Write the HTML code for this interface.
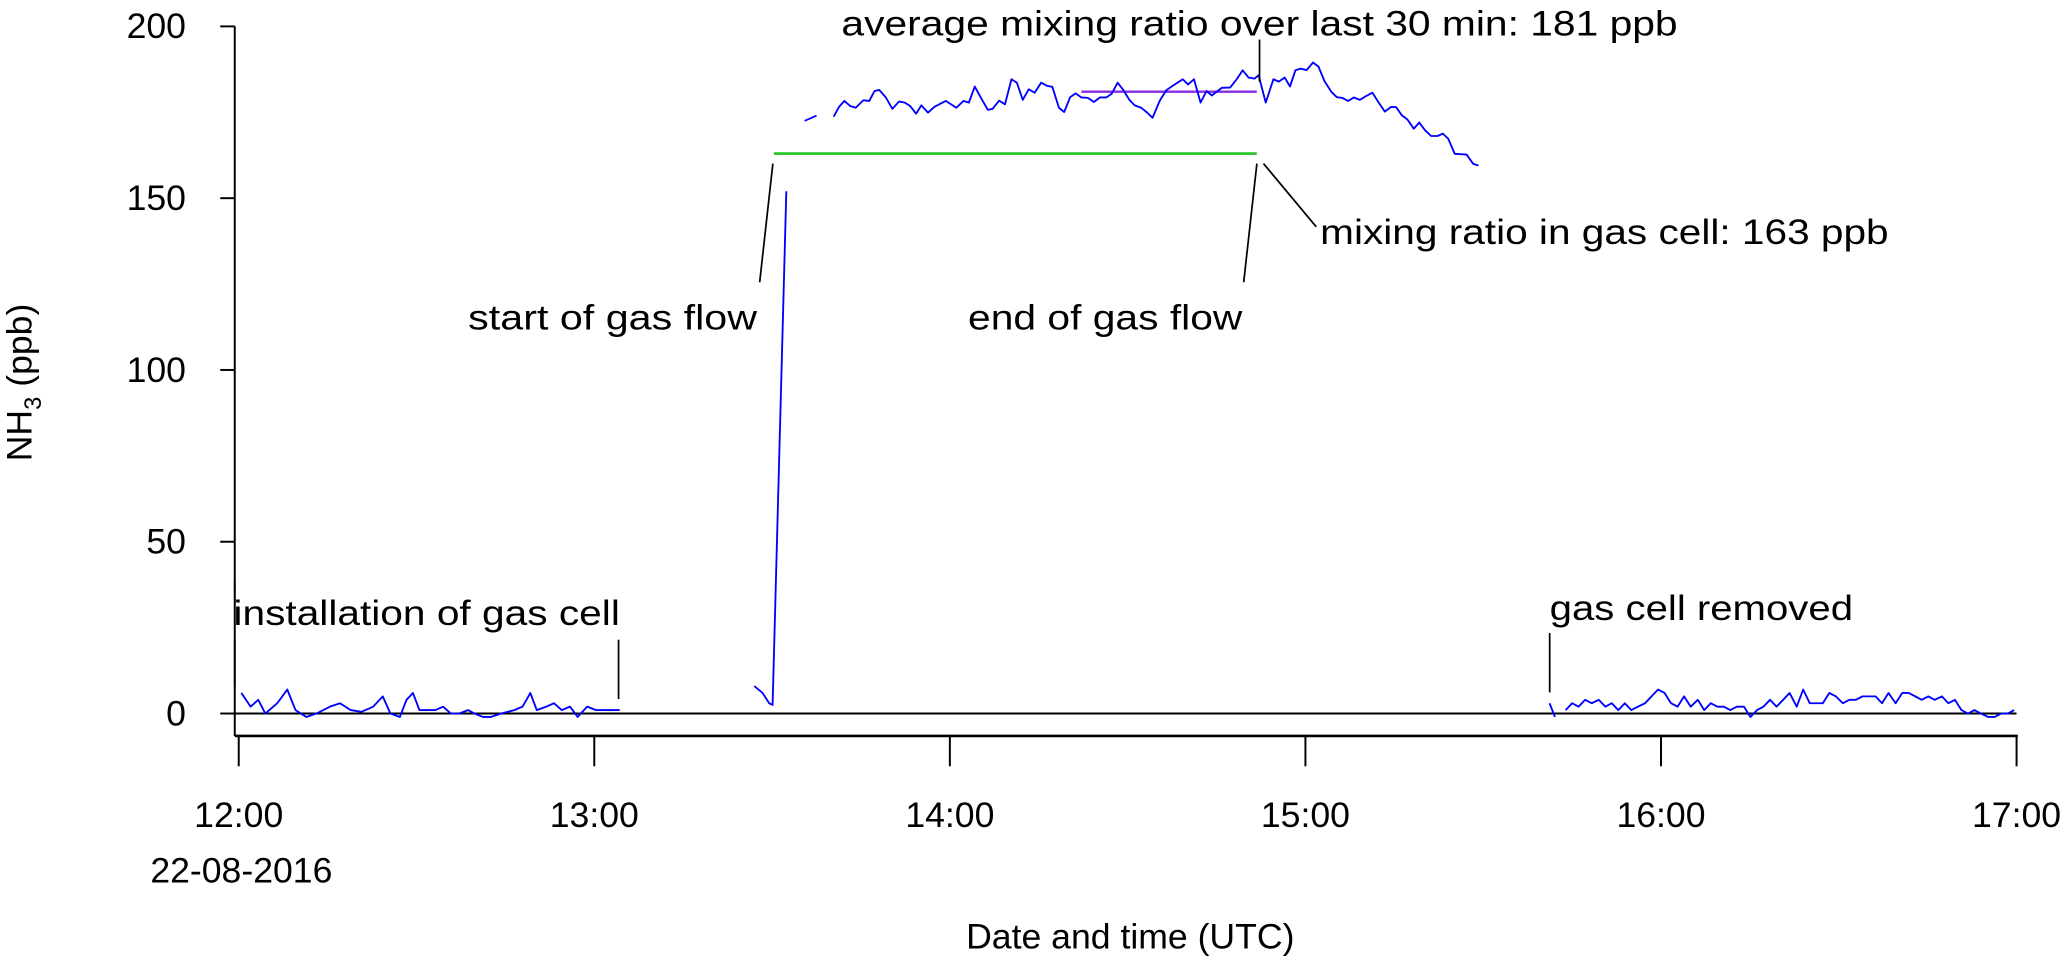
<!DOCTYPE html>
<html><head><meta charset="utf-8"><style>
html,body{margin:0;padding:0;background:#fff;}
svg{display:block;}
text{font-family:"Liberation Sans",sans-serif;fill:#000;}
</style></head><body>
<svg id="chart" width="2068" height="957" viewBox="0 0 1568 725.6" xmlns="http://www.w3.org/2000/svg">
<g id="axes"></g>
<g id="series"></g>
<g id="annot">
  <line x1="178" y1="440" x2="178" y2="455" stroke="#000" stroke-width="1.3"/>
  <line x1="178" y1="485" x2="178" y2="520" stroke="#000" stroke-width="1.3"/>
  <line x1="469" y1="485" x2="469" y2="530" stroke="#000" stroke-width="1.3"/>
  <text x="177" y="474" font-size="27" textLength="293" lengthAdjust="spacingAndGlyphs">installation of gas cell</text>
  <line x1="576" y1="214" x2="586" y2="124" stroke="#000" stroke-width="1.3"/>
  <text x="355" y="250" font-size="27" textLength="219" lengthAdjust="spacingAndGlyphs">start of gas flow</text>
  <line x1="943" y1="214" x2="953" y2="124" stroke="#000" stroke-width="1.3"/>
  <text x="734" y="250" font-size="27" textLength="208" lengthAdjust="spacingAndGlyphs">end of gas flow</text>
  <line x1="958" y1="124" x2="998" y2="172" stroke="#000" stroke-width="1.3"/>
  <text x="1001" y="185" font-size="27" textLength="431" lengthAdjust="spacingAndGlyphs">mixing ratio in gas cell: 163 ppb</text>
  <line x1="955" y1="30" x2="955" y2="62" stroke="#000" stroke-width="1.3"/>
  <text x="638" y="27" font-size="27" textLength="634" lengthAdjust="spacingAndGlyphs">average mixing ratio over last 30 min: 181 ppb</text>
  <line x1="1175" y1="480" x2="1175" y2="525" stroke="#000" stroke-width="1.3"/>
  <text x="1175" y="470" font-size="27" textLength="230" lengthAdjust="spacingAndGlyphs">gas cell removed</text>
</g>
</svg>
<script>
// data: minutes after 12:00 UTC, NH3 ppb
const seg1Min=[0.45,2,3.3,4.5,6.5,8.2,9.6,11.4,13.1,15.4,17.1,18.9,20.7,22.7,24.3,25.6,27.2,28.3,29.4,30.5,31.8,33.2,34.5,35.8,37.2,38.7,39.8,41.2,42.5,44.3,46.5,47.9,49.2,50.3,51.9,53.2,54.5,55.9,57.2,58.8,60.3,62.1,64.3];
const seg1Val=[6,2,4,0,3,7,1,-1,0,2,3,1,0.5,2,5,0,-1,4,6,1,1,1,2,0,0,1,0,-1,-1,0,1,2,6,1,2,3,1,2,-1,2,1,1,1];
const seg2Min=[87,88.4,89.5,90.1,92.4];
const seg2Val=[8,6,3,2.5,152];
const seg3Min=[95.5,97.5];
const seg3Val=[172.5,174];
const seg4Min=[100.4,101.3,102.2,103.2,104.1,105.4,106.4,107.3,108.1,109.2,110.3,111.4,112.4,113.3,114.3,115.2,116.3,117.4,119.3,121.1,122.3,123.2,124.2,125.2,126.4,127.2,128.3,129.3,130.4,131.3,132.3,133.3,134.3,135.4,136.4,137.3,138.4,139.3,140.3,141.2,142.2,143.3,144.3,145.3,146.4,147.3,148.3,149.3,150.3,151.2,152.3,153.3,154.2,155.4,156.5,157.6,159.3,160.2,161.2,162.3,163.3,164.2,165.9,167.3,168.4,169.4,170.4,171.4,172.1,173.3,174.6,175.5,176.5,177.4,178.3,179.2,180.2,181.3,182.2,183.2,184.4,185.3,186.2,187.2,188.2,189.2,190.2,191.3,192.3,193.4,194.4,195.3,196.3,197.2,198.3,199.2,200.2,201.2,202.3,203.2,204.1,205.2,207.2,208.3,209.2];
const seg4Val=[173.7,176.6,178.3,176.8,176.3,178.5,178.3,181.2,181.5,179.3,176,178.1,177.8,176.8,174.6,177,174.9,176.6,178.3,176.3,178.3,177.8,182.5,179.3,175.7,176,178.4,177.3,184.6,183.6,178.6,181.7,180.7,183.6,182.7,182.4,176.3,175.1,179.4,180.5,179.3,179.2,178,179.3,179.3,180.4,183.6,181.4,178.6,177,176.3,174.9,173.4,178.3,181.4,182.7,184.6,183.1,184.6,177.8,181.2,179.9,182.1,182.2,184.6,187.2,185.1,184.8,185.8,177.8,184.6,183.9,185.1,182.5,187.2,187.7,187.3,189.5,188.3,184.1,180.9,179.4,179.2,178.3,179.3,178.6,179.7,180.7,178,175.2,176.5,176.5,174.1,172.9,170.2,172,169.7,168.1,168.1,168.8,167.3,162.9,162.7,160,159.5];
const seg5aMin=[221.2,222.1];
const seg5aVal=[3,-1];
const seg5Min=[223.9,225.0,226.1,227.2,228.3,229.5,230.6,231.7,232.8,233.9,235.0,236.1,237.3,238.4,239.5,240.6,241.7,242.8,243.9,245.0,246.2,247.3,248.4,249.5,250.6,251.7,252.8,254.0,255.1,256.2,257.3,258.4,259.5,260.6,261.7,262.9,264.0,265.1,266.2,267.3,268.4,269.5,270.7,271.8,272.9,274.0,275.1,276.2,277.3,278.4,279.6,280.7,281.8,282.9,284.0,285.1,286.2,287.4,288.5,289.6,290.7,291.8,292.9,294.0,295.2,296.3,297.4,298.5,299.6];
const seg5Val=[1,3,2,4,3,4,2,3,1,3,1,2,3,5,7,6,3,2,5,2,4,1,3,2,2,1,2,2,-1,1,2,4,2,4,6,2,7,3,3,3,6,5,3,4,4,5,5,5,3,6,3,6,6,5,4,5,4,5,3,4,1,0,1,0,-1,-1,0,0,1];
const gasCellRatio=163;
const gasFlowMin=[90.3,171.8];
const avgRatio=181;
const avgMin=[142.2,171.8];
const yTicks=[0,50,100,150,200];
const xTickMin=[0,60,120,180,240,300];
const xTickLabels=["12:00","13:00","14:00","15:00","16:00","17:00"];

const NS="http://www.w3.org/2000/svg";
const X=m=>181+m*(1348/300);
const Y=v=>541-v*(521/200);
function mk(tag,attrs,parent){const e=document.createElementNS(NS,tag);for(const k in attrs)e.setAttribute(k,attrs[k]);parent.appendChild(e);return e;}
const axes=document.getElementById('axes');
const series=document.getElementById('series');

let yl=mk('line',{x1:178,y1:Y(200),x2:178,y2:558,stroke:'#000','stroke-width':1.5},axes);


yTicks.forEach(v=>{
  const t=mk('line',{x1:167,y1:Y(v),x2:178,y2:Y(v),stroke:'#000','stroke-width':1.5},axes);
  
  
  const l=mk('text',{x:141,y:Y(v)+9,'font-size':27,'text-anchor':'end'},axes);
  l.textContent=v;
  
  
});
let zl=mk('line',{x1:178,y1:Y(0),x2:X(300),y2:Y(0),stroke:'#000','stroke-width':1.5},axes);


let xl=mk('line',{x1:178,y1:558,x2:X(300)+1,y2:558,stroke:'#000','stroke-width':2},axes);


xTickMin.forEach((m,i)=>{
  const t=mk('line',{x1:X(m),y1:558,x2:X(m),y2:581,stroke:'#000','stroke-width':1.5},axes);
  
  
  const l=mk('text',{x:X(m),y:627,'font-size':27,'text-anchor':'middle'},axes);
  l.textContent=xTickLabels[i];
  
  
});
let dl=mk('text',{x:183,y:669,'font-size':27,'text-anchor':'middle'},axes);
dl.textContent='22-08-2016';


let xt=mk('text',{x:857,y:719,'font-size':27,'text-anchor':'middle'},axes);
xt.textContent='Date and time (UTC)';


let yt=mk('text',{x:0,y:0,'font-size':27,'text-anchor':'middle',transform:'translate(24,290) rotate(-90)'},axes);
yt.innerHTML='NH<tspan font-size="18" dy="7">3</tspan><tspan dy="-7"> (ppb)</tspan>';



let gl=mk('line',{x1:X(gasFlowMin[0]),y1:Y(gasCellRatio),x2:X(gasFlowMin[1]),y2:Y(gasCellRatio),stroke:'#22c322','stroke-width':2},series);


let pl=mk('line',{x1:X(avgMin[0]),y1:Y(avgRatio),x2:X(avgMin[1]),y2:Y(avgRatio),stroke:'#8a2be2','stroke-width':1.8},series);



[[seg1Min,seg1Val],[seg2Min,seg2Val],[seg3Min,seg3Val],[seg4Min,seg4Val],[seg5aMin,seg5aVal],[seg5Min,seg5Val]].forEach(([ms,vs])=>{
  const d=ms.map((m,i)=>(i?'L':'M')+X(m).toFixed(1)+' '+Y(vs[i]).toFixed(1)).join(' ');
  const p=mk('path',{d:d,fill:'none',stroke:'#0000ff','stroke-width':1.4,'stroke-linejoin':'round'},series);
  
  
});
</script>
</body></html>
